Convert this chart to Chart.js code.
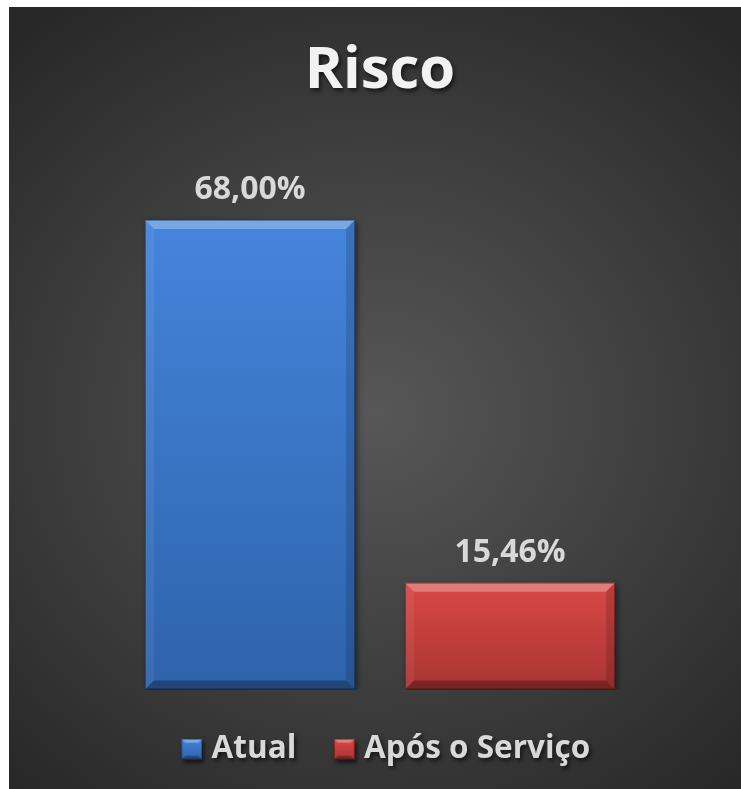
<!DOCTYPE html>
<html>
<head>
<meta charset="utf-8">
<script src="https://cdn.jsdelivr.net/npm/chart.js@4"></script>
<style>
  body { margin: 0; background: #fff; }
  #wrap {
    position: absolute; left: 9px; top: 7px; width: 732px; height: 782px;
    background: radial-gradient(ellipse 75% 65% at 50% 52%, #575757 0%, #3d3d3d 55%, #272727 100%);
  }
</style>
</head>
<body>
<div id="wrap"><canvas id="risco" width="732" height="782"></canvas></div>
<script>
// chart data
const categories = ['Atual', 'Após o Serviço'];
const seriesNames = ['Atual', 'Após o Serviço'];
const atualValues = [68.00, null];
const aposValues = [null, 15.46];
const yMax = 80;

// colours [top, bottom] for each series
const blueShades = ['#4585dc', '#2e63ab'];
const redShades = ['#d94845', '#a93533'];

// gradient runs over each bar's own height
function barGradient(shades) {
  return (ctx) => {
    const chart = ctx.chart;
    if (!chart.chartArea || ctx.raw == null) return shades[0];
    const y = chart.scales.y;
    const g = chart.ctx.createLinearGradient(0, y.getPixelForValue(ctx.raw), 0, y.getPixelForValue(0));
    g.addColorStop(0, shades[0]);
    g.addColorStop(1, shades[1]);
    return g;
  };
}

// small bevelled square used as legend marker
function makeIcon(shades) {
  const c = document.createElement('canvas');
  c.width = 21; c.height = 21;
  const x = c.getContext('2d');
  const g = x.createLinearGradient(0, 0, 0, 21);
  g.addColorStop(0, shades[0]);
  g.addColorStop(1, shades[1]);
  x.fillStyle = g;
  x.fillRect(0, 0, 21, 21);
  const b = 4;
  x.fillStyle = 'rgba(255,255,255,0.3)';
  x.beginPath(); x.moveTo(0, 0); x.lineTo(21, 0); x.lineTo(21 - b, b); x.lineTo(b, b); x.fill();
  x.fillStyle = 'rgba(0,0,0,0.3)';
  x.beginPath(); x.moveTo(0, 21); x.lineTo(21, 21); x.lineTo(21 - b, 21 - b); x.lineTo(b, 21 - b); x.fill();
  x.strokeStyle = 'rgba(0,0,0,0.4)';
  x.strokeRect(0.5, 0.5, 20, 20);
  return c;
}
const icons = [makeIcon(blueShades), makeIcon(redShades)];

// title shadow + bar shadow + bevel + value labels
const decorPlugin = {
  id: 'decor',
  afterLayout(chart) {
    // legend sits a little right of the plot centre in the original
    chart.legend.left += 9;
    chart.legend.right += 9;
  },
  beforeDraw(chart) {
    const ctx = chart.ctx;
    ctx.save();
    ctx.shadowColor = 'rgba(0,0,0,0.6)';
    ctx.shadowOffsetX = 2;
    ctx.shadowOffsetY = 3;
    ctx.shadowBlur = 4;
  },
  beforeDatasetsDraw(chart) {
    chart.ctx.restore();
    const ctx = chart.ctx;
    ctx.save();
    ctx.shadowColor = 'rgba(0,0,0,0.5)';
    ctx.shadowOffsetX = 2;
    ctx.shadowOffsetY = 2;
    ctx.shadowBlur = 6;
  },
  afterDatasetsDraw(chart) {
    const ctx = chart.ctx;
    ctx.restore();
    chart.data.datasets.forEach((ds, i) => {
      chart.getDatasetMeta(i).data.forEach((bar, j) => {
        const v = ds.data[j];
        if (v === null) return;
        const l = bar.x - bar.width / 2, r = bar.x + bar.width / 2;
        const t = bar.y, btm = bar.base, b = 9;
        const poly = (pts, fill) => {
          ctx.fillStyle = fill;
          ctx.beginPath();
          ctx.moveTo(pts[0][0], pts[0][1]);
          pts.slice(1).forEach(p => ctx.lineTo(p[0], p[1]));
          ctx.closePath();
          ctx.fill();
        };
        poly([[l, t], [r, t], [r - b, t + b], [l + b, t + b]], 'rgba(255,255,255,0.28)');
        poly([[l, t], [l + b, t + b], [l + b, btm - b], [l, btm]], 'rgba(255,255,255,0.06)');
        poly([[r, t], [r - b, t + b], [r - b, btm - b], [r, btm]], 'rgba(0,0,0,0.14)');
        poly([[l, btm], [l + b, btm - b], [r - b, btm - b], [r, btm]], 'rgba(0,0,0,0.3)');
        ctx.strokeStyle = 'rgba(0,0,0,0.35)';
        ctx.lineWidth = 1;
        ctx.strokeRect(l + 0.5, t + 0.5, r - l - 1, btm - t - 1);

        ctx.fillStyle = '#d9d9d9';
        ctx.font = 'bold 32px "Open Sans"';
        ctx.textAlign = 'center';
        ctx.textBaseline = 'alphabetic';
        ctx.fillText(v.toFixed(2).replace('.', ',') + '%', bar.x, t - 21);
      });
    });
  }
};

new Chart(document.getElementById('risco'), {
  type: 'bar',
  data: {
    labels: categories,
    datasets: [
      { label: seriesNames[0], data: atualValues, backgroundColor: barGradient(blueShades) },
      { label: seriesNames[1], data: aposValues, backgroundColor: barGradient(redShades) }
    ]
  },
  options: {
    responsive: false,
    animation: false,
    skipNull: true,
    barPercentage: 0.808,
    categoryPercentage: 1,
    layout: { padding: { left: 111, right: 101, top: 0, bottom: 14 } },
    scales: {
      x: { display: false },
      y: { display: false, min: 0, max: yMax }
    },
    plugins: {
      title: {
        display: true,
        text: 'Risco',
        color: '#f2f2f2',
        font: { family: 'Open Sans', size: 58, weight: 'bold' },
        padding: { top: 30, bottom: 30.4 }
      },
      legend: {
        position: 'bottom',
        labels: {
          color: '#d9d9d9',
          font: { family: 'Open Sans', size: 31.5, weight: 'bold' },
          usePointStyle: true,
          pointStyleWidth: 8,
          padding: 44,
          generateLabels(chart) {
            return chart.data.datasets.map((ds, i) => ({
              text: ds.label,
              fontColor: '#d9d9d9',
              pointStyle: icons[i],
              hidden: false,
              datasetIndex: i,
              lineWidth: 0
            }));
          }
        }
      },
      tooltip: { enabled: false }
    }
  },
  plugins: [decorPlugin]
});
</script>
</body>
</html>
